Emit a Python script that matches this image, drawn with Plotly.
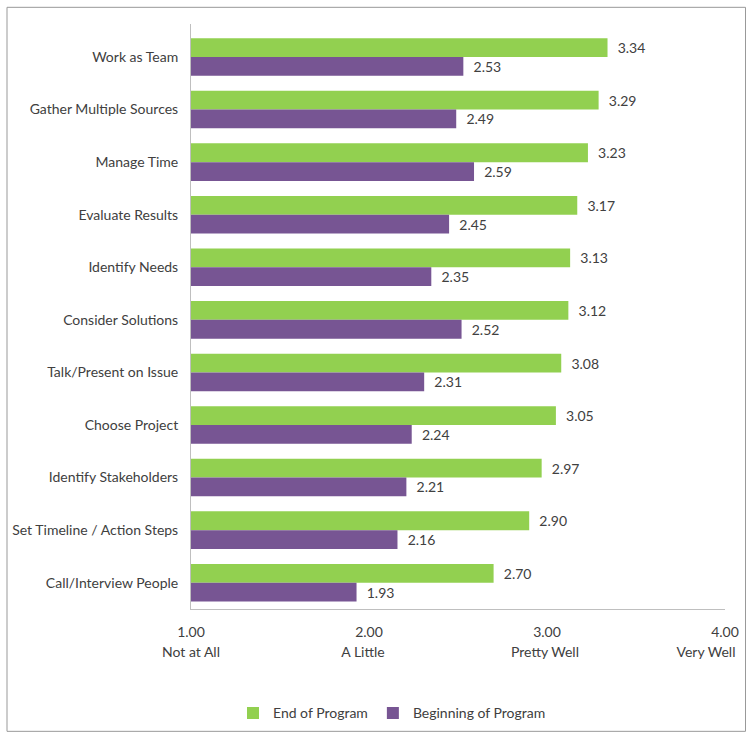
import plotly.graph_objects as go

categories = ["Work as Team", "Gather Multiple Sources", "Manage Time", "Evaluate Results",
              "Identify Needs", "Consider Solutions", "Talk/Present on Issue", "Choose Project",
              "Identify Stakeholders", "Set Timeline / Action Steps", "Call/Interview People"]
end_vals = [3.34, 3.29, 3.23, 3.17, 3.13, 3.12, 3.08, 3.05, 2.97, 2.90, 2.70]
begin_vals = [2.53, 2.49, 2.59, 2.45, 2.35, 2.52, 2.31, 2.24, 2.21, 2.16, 1.93]
tick_vals = [1, 2, 3, 4]
tick_nums = ["1.00", "2.00", "3.00", "4.00"]
tick_desc = ["Not at All", "A Little", "Pretty Well", "Very Well"]

GREEN = "#92D050"
PURPLE = "#775593"
TXT = "#404040"
FONT = "Lato"
FS = 14

W, H = 746, 734
PL, PR, PT, PB = 191, 725, 23.7, 609.5   # plot area in page pixels
PW, PH = PR - PL, PB - PT
X_RANGE = [1, 4]
PX_PER_UNIT = PW / (X_RANGE[1] - X_RANGE[0])
# pixel nudges of the descriptor labels (Excel keeps the last one inside the chart)
desc_nudge_px = [0, -6, -2, -19]
desc_pos = [v + d / PX_PER_UNIT for v, d in zip(tick_vals, desc_nudge_px)]


def px_x(p):
    return (p - PL) / PW


def px_y(p):
    return (PB - p) / PH


fig = go.Figure()
fig.add_trace(go.Bar(
    y=categories, x=end_vals, name="End of Program", orientation="h",
    marker=dict(color=GREEN, line=dict(width=0)),
    text=end_vals, texttemplate="  %{x:.2f}", textposition="outside",
    textfont=dict(size=FS, color=TXT, family=FONT), cliponaxis=False,
))
fig.add_trace(go.Bar(
    y=categories, x=begin_vals, name="Beginning of Program", orientation="h",
    marker=dict(color=PURPLE, line=dict(width=0)),
    text=begin_vals, texttemplate="  %{x:.2f}", textposition="outside",
    textfont=dict(size=FS, color=TXT, family=FONT), cliponaxis=False,
))
fig.add_trace(go.Scatter(x=tick_vals, y=[categories[0]] * 4, xaxis="x2", mode="markers",
                         marker=dict(opacity=0), showlegend=False, hoverinfo="skip"))

fig.update_layout(
    width=W, height=H,
    margin=dict(l=PL, r=W - PR, t=PT, b=H - PB, pad=0, autoexpand=False),
    paper_bgcolor="white", plot_bgcolor="white",
    barmode="group", bargap=0.285, bargroupgap=0.0,
    font=dict(family=FONT, size=FS, color=TXT),
    showlegend=True,
    legend=dict(orientation="h", x=px_x(233), xanchor="left", y=px_y(714), yanchor="middle",
                font=dict(size=FS, color=TXT, family=FONT), itemwidth=30,
                bgcolor="rgba(0,0,0,0)", traceorder="normal"),
    xaxis=dict(range=X_RANGE, tickvals=tick_vals, ticktext=tick_nums, automargin=False,
               showgrid=False, zeroline=False, showline=True, linecolor="#BFBFBF",
               linewidth=1, ticks="", ticklabelstandoff=10,
               tickfont=dict(size=FS, color=TXT, family=FONT)),
    xaxis2=dict(range=X_RANGE, overlaying="x", side="bottom", tickvals=desc_pos, automargin=False,
                ticktext=tick_desc, showgrid=False, zeroline=False, showline=False,
                ticks="", ticklabelstandoff=33,
                tickfont=dict(size=FS, color=TXT, family=FONT)),
    yaxis=dict(autorange="reversed", showgrid=False, zeroline=False, showline=True,
               linecolor="#BFBFBF", linewidth=1, ticks="", ticklabelstandoff=9, automargin=False,
               tickfont=dict(size=FS, color=TXT, family=FONT)),
    shapes=[dict(type="rect", xref="paper", yref="paper",
                 x0=px_x(7), x1=px_x(745.5), y0=px_y(732), y1=px_y(7),
                 line=dict(color="#999999", width=1), fillcolor="rgba(0,0,0,0)", layer="below")],
)

fig.write_html("out.html")
